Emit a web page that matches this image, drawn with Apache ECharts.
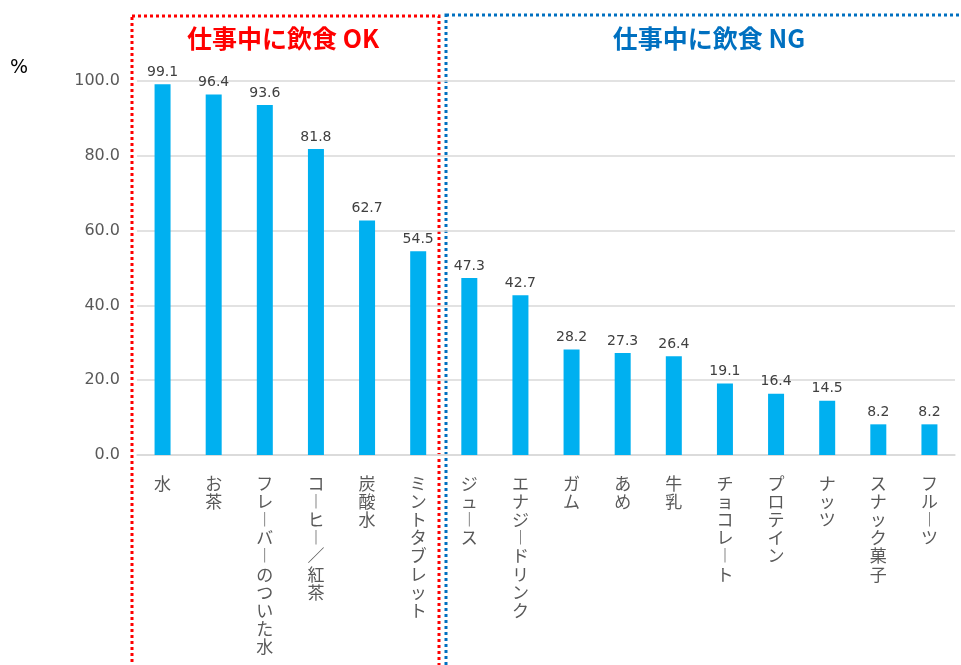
<!DOCTYPE html>
<html>
<head>
<meta charset="utf-8">
<script src="https://cdn.jsdelivr.net/npm/echarts@6/dist/echarts.min.js"></script>
<style>
  html, body { margin: 0; padding: 0; background: #fff; }
  #chart { width: 961px; height: 665px; }
</style>
</head>
<body>
<div id="chart"></div>
<script>
// data
var categories = ['水', 'お茶', 'フレーバーのついた水', 'コーヒー／紅茶', '炭酸水', 'ミントタブレット',
    'ジュース', 'エナジードリンク', 'ガム', 'あめ', '牛乳', 'チョコレート', 'プロテイン', 'ナッツ', 'スナック菓子', 'フルーツ'];
var values = [99.1, 96.4, 93.6, 81.8, 62.7, 54.5, 47.3, 42.7, 28.2, 27.3, 26.4, 19.1, 16.4, 14.5, 8.2, 8.2];
var groupTitles = ['仕事中に飲食 OK', '仕事中に飲食 NG'];
var unitLabel = '%';

// vertical text: one char per line, long vowel mark turned upright
function verticalText(s) {
    return s.split('').map(function (c) {
        return c === 'ー' ? '︱' : c;
    }).join('\n');
}

var chart = echarts.init(document.getElementById('chart'));

var option = {
    animation: false,
    grid: {
        left: 137,
        right: 6,
        top: 81,
        bottom: 210
    },
    xAxis: {
        type: 'category',
        data: categories,
        axisLine: { lineStyle: { color: '#d9d9d9', width: 1.5 } },
        axisTick: { show: false },
        axisLabel: {
            interval: 0,
            margin: 19,
            verticalAlign: 'top',
            fontFamily: 'Noto Sans CJK JP',
            fontSize: 17,
            lineHeight: 18.2,
            color: '#595959',
            formatter: verticalText
        }
    },
    yAxis: {
        type: 'value',
        min: 0,
        max: 100,
        interval: 20,
        axisLine: { show: false },
        axisTick: { show: false },
        splitLine: { lineStyle: { color: '#d9d9d9', width: 1.5 } },
        axisLabel: {
            margin: 17,
            fontFamily: 'DejaVu Sans',
            fontSize: 16,
            color: '#595959',
            formatter: function (v) { return v.toFixed(1); }
        }
    },
    series: [{
        type: 'bar',
        data: values,
        barWidth: 16,
        itemStyle: { color: '#00b0f0' },
        label: {
            show: true,
            position: 'top',
            distance: 5,
            fontFamily: 'DejaVu Sans',
            fontSize: 14,
            color: '#404040',
            formatter: function (p) { return p.value.toFixed(1); }
        }
    }],
    graphic: [
        {
            type: 'rect',
            shape: { x: 132, y: 16, width: 307, height: 700 },
            style: { fill: 'none', stroke: '#ff0000', lineWidth: 3, lineDash: [3, 3] }
        },
        {
            type: 'rect',
            shape: { x: 446, y: 15, width: 600, height: 700 },
            style: { fill: 'none', stroke: '#0070c0', lineWidth: 3, lineDash: [3, 3] }
        },
        {
            type: 'text',
            x: 283, y: 38,
            style: {
                text: groupTitles[0], fill: '#ff0000',
                font: 'bold 25px "Noto Sans CJK JP"',
                align: 'center', verticalAlign: 'middle'
            }
        },
        {
            type: 'text',
            x: 709, y: 38,
            style: {
                text: groupTitles[1], fill: '#0070c0',
                font: 'bold 25px "Noto Sans CJK JP"',
                align: 'center', verticalAlign: 'middle'
            }
        },
        {
            type: 'text',
            x: 19, y: 68,
            style: {
                text: unitLabel, fill: '#000',
                font: '19px "DejaVu Sans"',
                align: 'center', verticalAlign: 'middle'
            }
        }
    ]
};

chart.setOption(option);
</script>
</body>
</html>
